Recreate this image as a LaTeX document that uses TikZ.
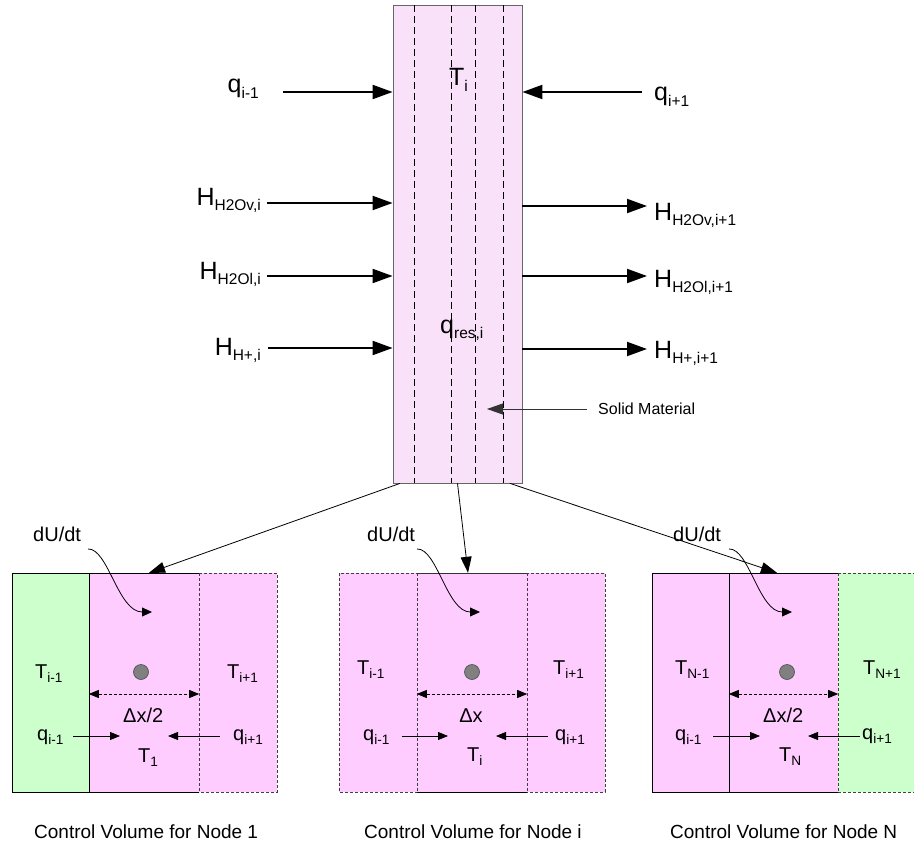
\documentclass[tikz,border=0pt]{standalone}
\usepackage{fontspec}
\setmainfont{Liberation Sans}
\usetikzlibrary{arrows.meta,calc}
\definecolor{colfill}{HTML}{F9E1F9}
\definecolor{pinkc}{HTML}{FFCCFF}
\definecolor{greenc}{HTML}{CCFFCC}
\newcommand{\sbs}[1]{\raisebox{-0.22em}{\scalebox{0.62}{#1}}}
\newcommand{\sbm}[1]{\raisebox{-0.2em}{\scalebox{0.68}{#1}}}
\begin{document}
\begin{tikzpicture}[x=1pt,y=-1pt,
  big/.style={font=\fontsize{25}{30}\selectfont},
  mid/.style={font=\fontsize{20}{24}\selectfont},
  lbl/.style={inner sep=0pt, anchor=base west},
  lble/.style={inner sep=0pt, anchor=base east},
  bigarr/.style={line width=2pt, -{Triangle[length=20pt,width=14pt]}},
  linkarr/.style={line width=0.8pt, -{Triangle[length=16pt,width=11pt]}},
  smallarr/.style={line width=0.8pt, -{Triangle[length=10pt,width=8pt]}},
  curvearr/.style={line width=0.8pt, -{Triangle[length=10pt,width=9pt]}},
  dimarr/.style={line width=0.8pt, dash pattern=on 3pt off 2pt, {Triangle[length=10pt,width=8pt]}-{Triangle[length=10pt,width=8pt]}},
  cellline/.style={line width=0.8pt, draw=black},
  celldash/.style={line width=0.8pt, dash pattern=on 3pt off 2pt, draw=black!75},
  coldash/.style={line width=0.8pt, dash pattern=on 7pt off 4pt},
  dotnode/.style={circle, fill=black!50, draw=black!70, line width=0.6pt, minimum size=15pt, inner sep=0pt},
  cellnode/.style={inner sep=0pt, minimum height=219pt, draw=none},
  captxt/.style={inner sep=0pt, anchor=base west, font=\fontsize{19}{23}\selectfont},
]
\useasboundingbox (0,0) rectangle (914,859);

% ---------------- column ----------------
\node[draw=black!60, line width=0.8pt, fill=colfill, minimum width=129pt, minimum height=478pt, inner sep=0pt] (col) at (457.5,244) {};
\foreach \xx in {414,451,475,503} {\draw[coldash] (\xx,5) -- (\xx,483);}
\node[big,lbl] (Ti) at (449,86) {T\sbs{i}};
\node[big,lbl] (qres) at (440,333) {q\sbs{res,i}};

% left inflows
\node[big,lble] (qim) at (259,93) {q\sbs{i-1}};
\coordinate (qimS) at (283,92);
\draw[bigarr] (qimS) -- (qimS -| col.west);
\node[big,lble] (hvi) at (261,205) {H\sbs{H2Ov,i}};
\coordinate (hviS) at (267,203);
\draw[bigarr] (hviS) -- (hviS -| col.west);
\node[big,lble] (hli) at (261,279) {H\sbs{H2Ol,i}};
\coordinate (hliS) at (267,276);
\draw[bigarr] (hliS) -- (hliS -| col.west);
\node[big,lble] (hpi) at (261,355) {H\sbs{H+,i}};
\coordinate (hpiS) at (268,348);
\draw[bigarr] (hpiS) -- (hpiS -| col.west);

% right flows
\node[big,lbl] (qip) at (654,101) {q\sbs{i+1}};
\coordinate (qipS) at (642,92);
\draw[bigarr] (qipS) -- (qipS -| col.east);
\node[big,lbl] (hvo) at (654,220) {H\sbs{H2Ov,i+1}};
\coordinate (hvoE) at (647,206);
\draw[bigarr] (hvoE -| col.east) -- (hvoE);
\node[big,lbl] (hlo) at (654,287) {H\sbs{H2Ol,i+1}};
\coordinate (hloE) at (647,276);
\draw[bigarr] (hloE -| col.east) -- (hloE);
\node[big,lbl] (hpo) at (654,358) {H\sbs{H+,i+1}};
\coordinate (hpoE) at (647,349);
\draw[bigarr] (hpoE -| col.east) -- (hpoE);

% solid material
\node[lbl, font=\fontsize{16}{19}\selectfont] (sm) at (598,414) {Solid Material};
\coordinate (smS) at (587,409);
\coordinate (smT) at (487,409);
\draw[line width=0.8pt, draw=black!80, -{Triangle[length=16pt,width=11pt]}] (smS) -- (smT);

% ---------------- bottom boxes: fills ----------------
\fill[greenc] (12,573) rectangle (89,792);
\node[cellnode, fill=pinkc, minimum width=110pt] (b1m) at (144,682.5) {};
\fill[pinkc] (199,573) rectangle (277,792);

\fill[pinkc] (339,573) rectangle (417,792);
\node[cellnode, fill=pinkc, minimum width=110pt] (b2m) at (472,682.5) {};
\fill[pinkc] (527,573) rectangle (605,792);

\fill[pinkc] (652,573) rectangle (729,792);
\node[cellnode, fill=pinkc, minimum width=109pt] (b3m) at (783.5,682.5) {};
\fill[greenc] (838,573) rectangle (916,792);

% borders box 1
\draw[cellline] (12,573) rectangle (89,792);
\draw[cellline] (89,573) -- (199,573);
\draw[cellline] (89,792) -- (199,792);
\draw[celldash] (199,573) -- (199,792);
\draw[celldash] (199,573) -- (277,573) -- (277,792) -- (199,792);
% borders box 2
\draw[celldash] (339,573) rectangle (605,792);
\draw[celldash] (417,573) -- (417,792);
\draw[celldash] (527,573) -- (527,792);
\draw[cellline, draw=black!80] (417,573) -- (527,573);
\draw[cellline] (417,792) -- (527,792);
% borders box 3
\draw[cellline] (652,573) rectangle (729,792);
\draw[cellline] (729,573) -- (838,573);
\draw[cellline] (729,792) -- (838,792);
\draw[celldash] (838,573) -- (838,792);
\draw[celldash] (838,573) -- (916,573);
\draw[celldash] (838,792) -- (916,792);

% column to boxes
\draw[linkarr] ($(col.south)+(-57.5,0)$) -- ($(b1m.north)+(5,0)$);
\draw[linkarr] (col.south) -- ($(b2m.north)+(-4,0)$);
\draw[linkarr] ($(col.south)+(52.5,0)$) -- ($(b3m.north)+(-6.5,0)$);

% ---------------- box 1 content ----------------
\node[mid,lbl] (du1) at (33,541) {dU/dt};
\coordinate (du1S) at (88,549); \coordinate (du1T) at (152,612);
\draw[curvearr] (du1S) .. controls (108,548) and (118,612) .. (du1T);
\node[dotnode] (d1) at (141,672) {};
\coordinate (dim) at (0,694);
\draw[dimarr] (b1m.west |- dim) -- (b1m.east |- dim);
\node[mid,lbl] (t1a) at (35,678) {T\sbm{i-1}};
\node[mid,lbl] (t1b) at (227,678) {T\sbm{i+1}};
\node[mid,lbl] (dx1) at (123,722) {Δx/2};
\node[mid,lbl] (q1a) at (37,740) {q\sbm{i-1}};
\node[mid,lbl] (q1b) at (233,740) {q\sbm{i+1}};
\node[mid,lbl] (t1c) at (138,762) {T\sbm{1}};
\coordinate (q1aS) at (73,736); \coordinate (q1aT) at (120,736);
\coordinate (q1bS) at (220,736); \coordinate (q1bT) at (168,736);
\draw[smallarr] (q1aS) -- (q1aT);
\draw[smallarr] (q1bS) -- (q1bT);

% ---------------- box 2 content ----------------
\node[mid,lbl] (du2) at (367,541) {dU/dt};
\coordinate (du2S) at (417,549); \coordinate (du2T) at (480,612);
\draw[curvearr] (du2S) .. controls (437,548) and (447,612) .. (du2T);
\node[dotnode] (d2) at (472,672) {};
\draw[dimarr] (b2m.west |- dim) -- (b2m.east |- dim);
\node[mid,lbl] (t2a) at (357,674) {T\sbm{i-1}};
\node[mid,lbl] (t2b) at (553,674) {T\sbm{i+1}};
\node[mid,inner sep=0pt,anchor=base] (dx2) at (471,722) {Δx};
\node[mid,lbl] (q2a) at (363,740) {q\sbm{i-1}};
\node[mid,lbl] (q2b) at (555,740) {q\sbm{i+1}};
\node[mid,lbl] (t2c) at (467,761) {T\sbm{i}};
\coordinate (q2aS) at (402,736); \coordinate (q2aT) at (448,736);
\coordinate (q2bS) at (548,736); \coordinate (q2bT) at (496,736);
\draw[smallarr] (q2aS) -- (q2aT);
\draw[smallarr] (q2bS) -- (q2bT);

% ---------------- box 3 content ----------------
\node[mid,lbl] (du3) at (673,541) {dU/dt};
\coordinate (du3S) at (729,549); \coordinate (du3T) at (792,612);
\draw[curvearr] (du3S) .. controls (749,548) and (759,612) .. (du3T);
\node[dotnode] (d3) at (787,672) {};
\draw[dimarr] (b3m.west |- dim) -- (b3m.east |- dim);
\node[mid,lbl] (t3a) at (675,674) {T\sbm{N-1}};
\node[mid,lbl] (t3b) at (863,674) {T\sbm{N+1}};
\node[mid,lbl] (dx3) at (763,722) {Δx/2};
\node[mid,lbl] (q3a) at (675,740) {q\sbm{i-1}};
\node[mid,lbl] (q3b) at (862,739) {q\sbm{i+1}};
\node[mid,lbl] (t3c) at (779,761) {T\sbm{N}};
\coordinate (q3aS) at (713,736); \coordinate (q3aT) at (760,736);
\coordinate (q3bS) at (860,736); \coordinate (q3bT) at (808,736);
\draw[smallarr] (q3aS) -- (q3aT);
\draw[smallarr] (q3bS) -- (q3bT);

% ---------------- captions ----------------
\node[captxt] (cap1) at (34,838) {Control Volume for Node 1};
\node[captxt] (cap2) at (364,838) {Control Volume for Node i};
\node[captxt] (cap3) at (670,838) {Control Volume for Node N};
\end{tikzpicture}
\end{document}
